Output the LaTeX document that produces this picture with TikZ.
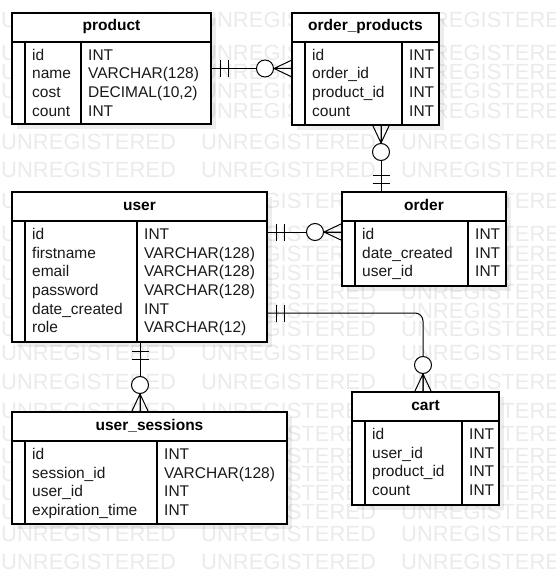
\documentclass[tikz,border=0pt]{standalone}
\usepackage{fontspec}
\setmainfont{Liberation Sans}
\usetikzlibrary{calc}
\pgfdeclarelayer{bg}
\pgfsetlayers{bg,main}
\tikzset{
  tbl/.style={draw=black, line width=1.3pt, fill=white, anchor=north west, inner sep=0pt, outer sep=0pt},
  hdr/.style={font=\fontsize{15.5}{18}\selectfont\bfseries, anchor=base, inner sep=0pt, text=black},
  fld/.style={font=\fontsize{15.5}{18}\selectfont, anchor=base west, inner sep=0pt, text=black!90},
  sepline/.style={line width=1.1pt, black},
  conn/.style={line width=1pt, black},
  wmark/.style={font=\fontsize{22}{22}\selectfont, text=black!8, anchor=base west, inner sep=0pt},
  shade/.style={fill=black, opacity=0.07},
  mandone/.pic={\draw[conn] (9,-8.5) -- (9,8.5) (17,-8.5) -- (17,8.5);},
  zeromany/.pic={\draw[conn] (18,0) -- (0,-8.5) (18,0) -- (0,8.5) (18,0) -- (0,0);
                 \draw[conn, fill=white] (27,0) circle [radius=8.5];}
}
\newcommand\ertable[8]{%
  \node[tbl, minimum width=#4pt, minimum height=#5pt] (#1) at (#2,#3) {};
  \draw[sepline] ([yshift=-29pt]#1.north west) -- ([yshift=-29pt]#1.north east);
  \draw[sepline] ([xshift=13pt,yshift=-29pt]#1.north west) -- ([xshift=13pt]#1.south west);
  \draw[sepline] ([xshift=#6pt,yshift=-29pt]#1.north west) -- ([xshift=#6pt]#1.south west);
  \node[hdr] (#1-title) at ([yshift=-18pt]#1.north) {#7};
  \foreach \f/\t [count=\i] in {#8} {
    \node[fld] (#1-f\i) at ([xshift=20pt,yshift={-(47.3+(\i-1)*18.7)*1pt}]#1.north west) {\f};
    \node[fld] (#1-t\i) at ([xshift={(#6+7)*1pt},yshift={-(47.3+(\i-1)*18.7)*1pt}]#1.north west) {\t};
  }
}
\begin{document}
\begin{tikzpicture}[x=1pt,y=-1pt]
\useasboundingbox (0,0) rectangle (555,575);
\begin{pgfonlayer}{bg}
  \fill[white] (0,0) rectangle (555,575);
  \foreach \yy [count=\r] in {20,53,72,91,110,141,169,200,233,253,272,291,310,328,352,381,410,433,455,473,492,511,533,561}
    \foreach \xx [count=\c] in {1,201,401}
      \node[wmark] (wm-\r-\c) at (\xx,\yy+8) {UNREGISTERED};
\end{pgfonlayer}

\ertable{product}{12}{13}{199}{111}{69}{product}{id/INT, name/VARCHAR(128), cost/{DECIMAL(10,2)}, count/INT}
\ertable{op}{292}{13}{147}{112}{110}{order\_products}{id/INT, order\_id/INT, product\_id/INT, count/INT}
\ertable{usr}{12}{192}{255}{150}{125}{user}{id/INT, firstname/VARCHAR(128), email/VARCHAR(128), password/VARCHAR(128), date\_created/INT, role/VARCHAR(12)}
\ertable{ordr}{342}{192}{164}{94}{126}{order}{id/INT, date\_created/INT, user\_id/INT}
\ertable{sess}{12}{412}{275}{112}{145}{user\_sessions}{id/INT, session\_id/VARCHAR(128), user\_id/INT, expiration\_time/INT}
\ertable{cart}{352}{392}{147}{113}{110}{cart}{id/INT, user\_id/INT, product\_id/INT, count/INT}

\begin{pgfonlayer}{bg}
  \foreach \n in {product,op,usr,ordr,sess,cart}
    \fill[shade] ([shift={(5pt,-5pt)}]\n.north west) rectangle ([shift={(5pt,-5pt)}]\n.south east);
\end{pgfonlayer}

% connectors
\coordinate (c1a) at (product.east);
\coordinate (c1b) at (c1a -| op.west);
\draw[conn] (c1a) -- (c1b);
\pic at (c1a) {mandone};
\pic[rotate=180] at (c1b) {zeromany};

\coordinate (c2a) at ([xshift=89pt]op.south west);
\coordinate (c2b) at (c2a |- ordr.north);
\draw[conn] (c2a) -- (c2b);
\pic[rotate=-90] at (c2a) {zeromany};
\pic[rotate=90] at (c2b) {mandone};

\coordinate (c3a) at ([yshift=-40pt]usr.north east);
\coordinate (c3b) at (c3a -| ordr.west);
\draw[conn] (c3a) -- (c3b);
\pic at (c3a) {mandone};
\pic[rotate=180] at (c3b) {zeromany};

\coordinate (c4a) at ([xshift=128pt]usr.south west);
\coordinate (c4b) at (c4a |- sess.north);
\draw[conn] (c4a) -- (c4b);
\pic[rotate=-90] at (c4a) {mandone};
\pic[rotate=90] at (c4b) {zeromany};

\coordinate (c5a) at ([yshift=-121pt]usr.north east);
\coordinate (c5b) at ([xshift=71pt]cart.north west);
\draw[conn, rounded corners=8pt] (c5a) -| (c5b);
\pic at (c5a) {mandone};
\pic[rotate=90] at (c5b) {zeromany};
\end{tikzpicture}
\end{document}
